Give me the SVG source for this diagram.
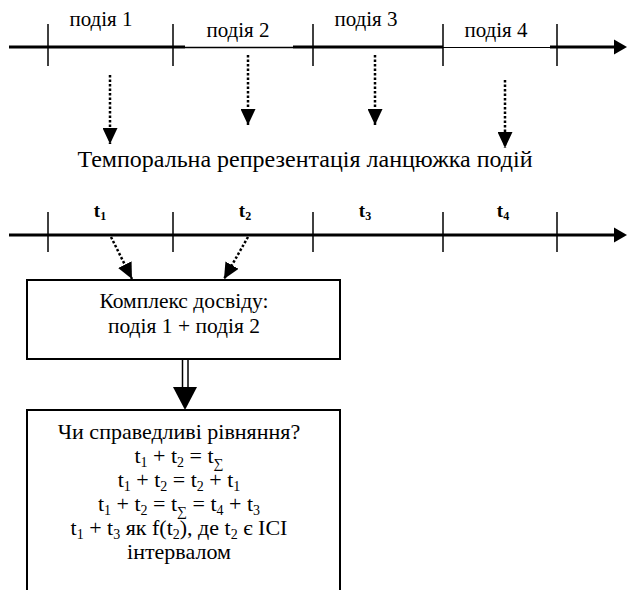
<svg xmlns="http://www.w3.org/2000/svg" width="627" height="590" viewBox="0 0 627 590">
<defs>
<style>
text{font-family:"Liberation Serif","Times New Roman",serif;fill:#000;text-anchor:middle}
.lbl{font-size:21px}
.cap{font-size:24px}
.b1{font-size:21.5px}
.b2{font-size:22px}
.t{font-size:19px;font-weight:bold}
.ts{font-size:12px;font-weight:bold}
.s{font-size:14px}
.axis{stroke:#000;fill:none}
.tick{stroke:#000;stroke-width:1.5}
.dot{stroke:#000;stroke-width:2.5;stroke-dasharray:2.5 2;fill:none;marker-end:url(#ah)}
.box{fill:#fff;stroke:#000;stroke-width:2}
</style>
<marker id="ah" markerUnits="userSpaceOnUse" markerWidth="16" markerHeight="15" refX="16" refY="7.5" orient="auto" viewBox="0 0 16 15">
<path d="M0,0 L16,7.5 L0,15 Z" fill="#000"/>
</marker>
</defs>
<rect width="627" height="590" fill="#fff"/>

<g id="timeline-events">
<line class="axis" x1="9" y1="47" x2="185" y2="47" stroke-width="3"/>
<line class="axis" x1="185" y1="47.5" x2="293" y2="47.5" stroke-width="1.5"/>
<line class="axis" x1="293" y1="47" x2="443" y2="47" stroke-width="3"/>
<line class="axis" x1="443" y1="47.5" x2="550" y2="47.5" stroke-width="1.2"/>
<line class="axis" x1="550" y1="47" x2="616" y2="47" stroke-width="3"/>
<path d="M614,39.5 L627,47 L614,54.5 Z" fill="#000"/>
<line class="tick" x1="48" y1="24" x2="48" y2="66"/>
<line class="tick" x1="173" y1="24" x2="173" y2="66"/>
<line class="tick" x1="313" y1="24" x2="313" y2="66"/>
<line class="tick" x1="443" y1="24" x2="443" y2="66"/>
<line class="tick" x1="557" y1="24" x2="557" y2="66"/>
<text class="lbl" x="101" y="26">подія 1</text>
<text class="lbl" x="238" y="37">подія 2</text>
<text class="lbl" x="366" y="26">подія 3</text>
<text class="lbl" x="496" y="37">подія 4</text>
</g>

<g id="caption">
<text class="cap" x="305" y="167">Темпоральна репрезентація ланцюжка подій</text>
</g>

<g id="timeline-intervals">
<line class="axis" x1="9" y1="235" x2="616" y2="235" stroke-width="3"/>
<path d="M614,227.5 L627,235 L614,242.5 Z" fill="#000"/>
<line class="tick" x1="48" y1="212" x2="48" y2="252"/>
<line class="tick" x1="173" y1="212" x2="173" y2="252"/>
<line class="tick" x1="313" y1="212" x2="313" y2="252"/>
<line class="tick" x1="443" y1="212" x2="443" y2="252"/>
<line class="tick" x1="557" y1="212" x2="557" y2="252"/>
<text class="t" x="100" y="217">t<tspan class="ts" dy="3">1</tspan></text>
<text class="t" x="245" y="217">t<tspan class="ts" dy="3">2</tspan></text>
<text class="t" x="365" y="217">t<tspan class="ts" dy="3">3</tspan></text>
<text class="t" x="503" y="217">t<tspan class="ts" dy="3">4</tspan></text>
</g>

<g id="box-complex">
<rect class="box" x="27" y="280" width="313" height="79"/>
<text class="b1" x="184" y="308">Комплекс досвіду:</text>
<text class="b1" x="184" y="333">подія 1 + подія 2</text>
</g>

<g id="box-equations">
<path class="box" d="M27,592 L27,410 L340,410 L340,592"/>
<text class="b2" x="179" y="439">Чи справедливі рівняння?</text>
<text class="b2" x="179" y="463">t<tspan class="s" dy="4">1</tspan><tspan dy="-4"> + t</tspan><tspan class="s" dy="4">2</tspan><tspan dy="-4"> = t</tspan><tspan class="s" dy="5">∑</tspan></text>
<text class="b2" x="179" y="487">t<tspan class="s" dy="4">1</tspan><tspan dy="-4"> + t</tspan><tspan class="s" dy="4">2</tspan><tspan dy="-4"> = t</tspan><tspan class="s" dy="4">2</tspan><tspan dy="-4"> + t</tspan><tspan class="s" dy="4">1</tspan></text>
<text class="b2" x="179" y="511">t<tspan class="s" dy="4">1</tspan><tspan dy="-4"> + t</tspan><tspan class="s" dy="4">2</tspan><tspan dy="-4"> = t</tspan><tspan class="s" dy="5">∑</tspan><tspan dy="-5"> = t</tspan><tspan class="s" dy="4">4</tspan><tspan dy="-4"> + t</tspan><tspan class="s" dy="4">3</tspan></text>
<text class="b2" x="179" y="535">t<tspan class="s" dy="4">1</tspan><tspan dy="-4"> + t</tspan><tspan class="s" dy="4">3</tspan><tspan dy="-4"> як f(t</tspan><tspan class="s" dy="4">2</tspan><tspan dy="-4">), де t</tspan><tspan class="s" dy="4">2</tspan><tspan dy="-4"> є ІСІ</tspan></text>
<text class="b2" x="179" y="559">інтервалом</text>
</g>

<g id="connectors">
<line class="dot" x1="110" y1="75" x2="110" y2="144"/>
<line class="dot" x1="248" y1="55" x2="248" y2="125"/>
<line class="dot" x1="375" y1="55" x2="375" y2="125"/>
<line class="dot" x1="505" y1="80" x2="505" y2="148"/>
<line class="dot" x1="111" y1="237" x2="132" y2="279"/>
<line class="dot" x1="248" y1="237" x2="224" y2="279"/>
<line x1="182.5" y1="359" x2="182.5" y2="388" stroke="#000" stroke-width="1.5"/>
<line x1="188" y1="359" x2="188" y2="388" stroke="#000" stroke-width="1.5"/>
<path d="M173,387 L197,387 L185,410 Z" fill="#000"/>
</g>
</svg>
